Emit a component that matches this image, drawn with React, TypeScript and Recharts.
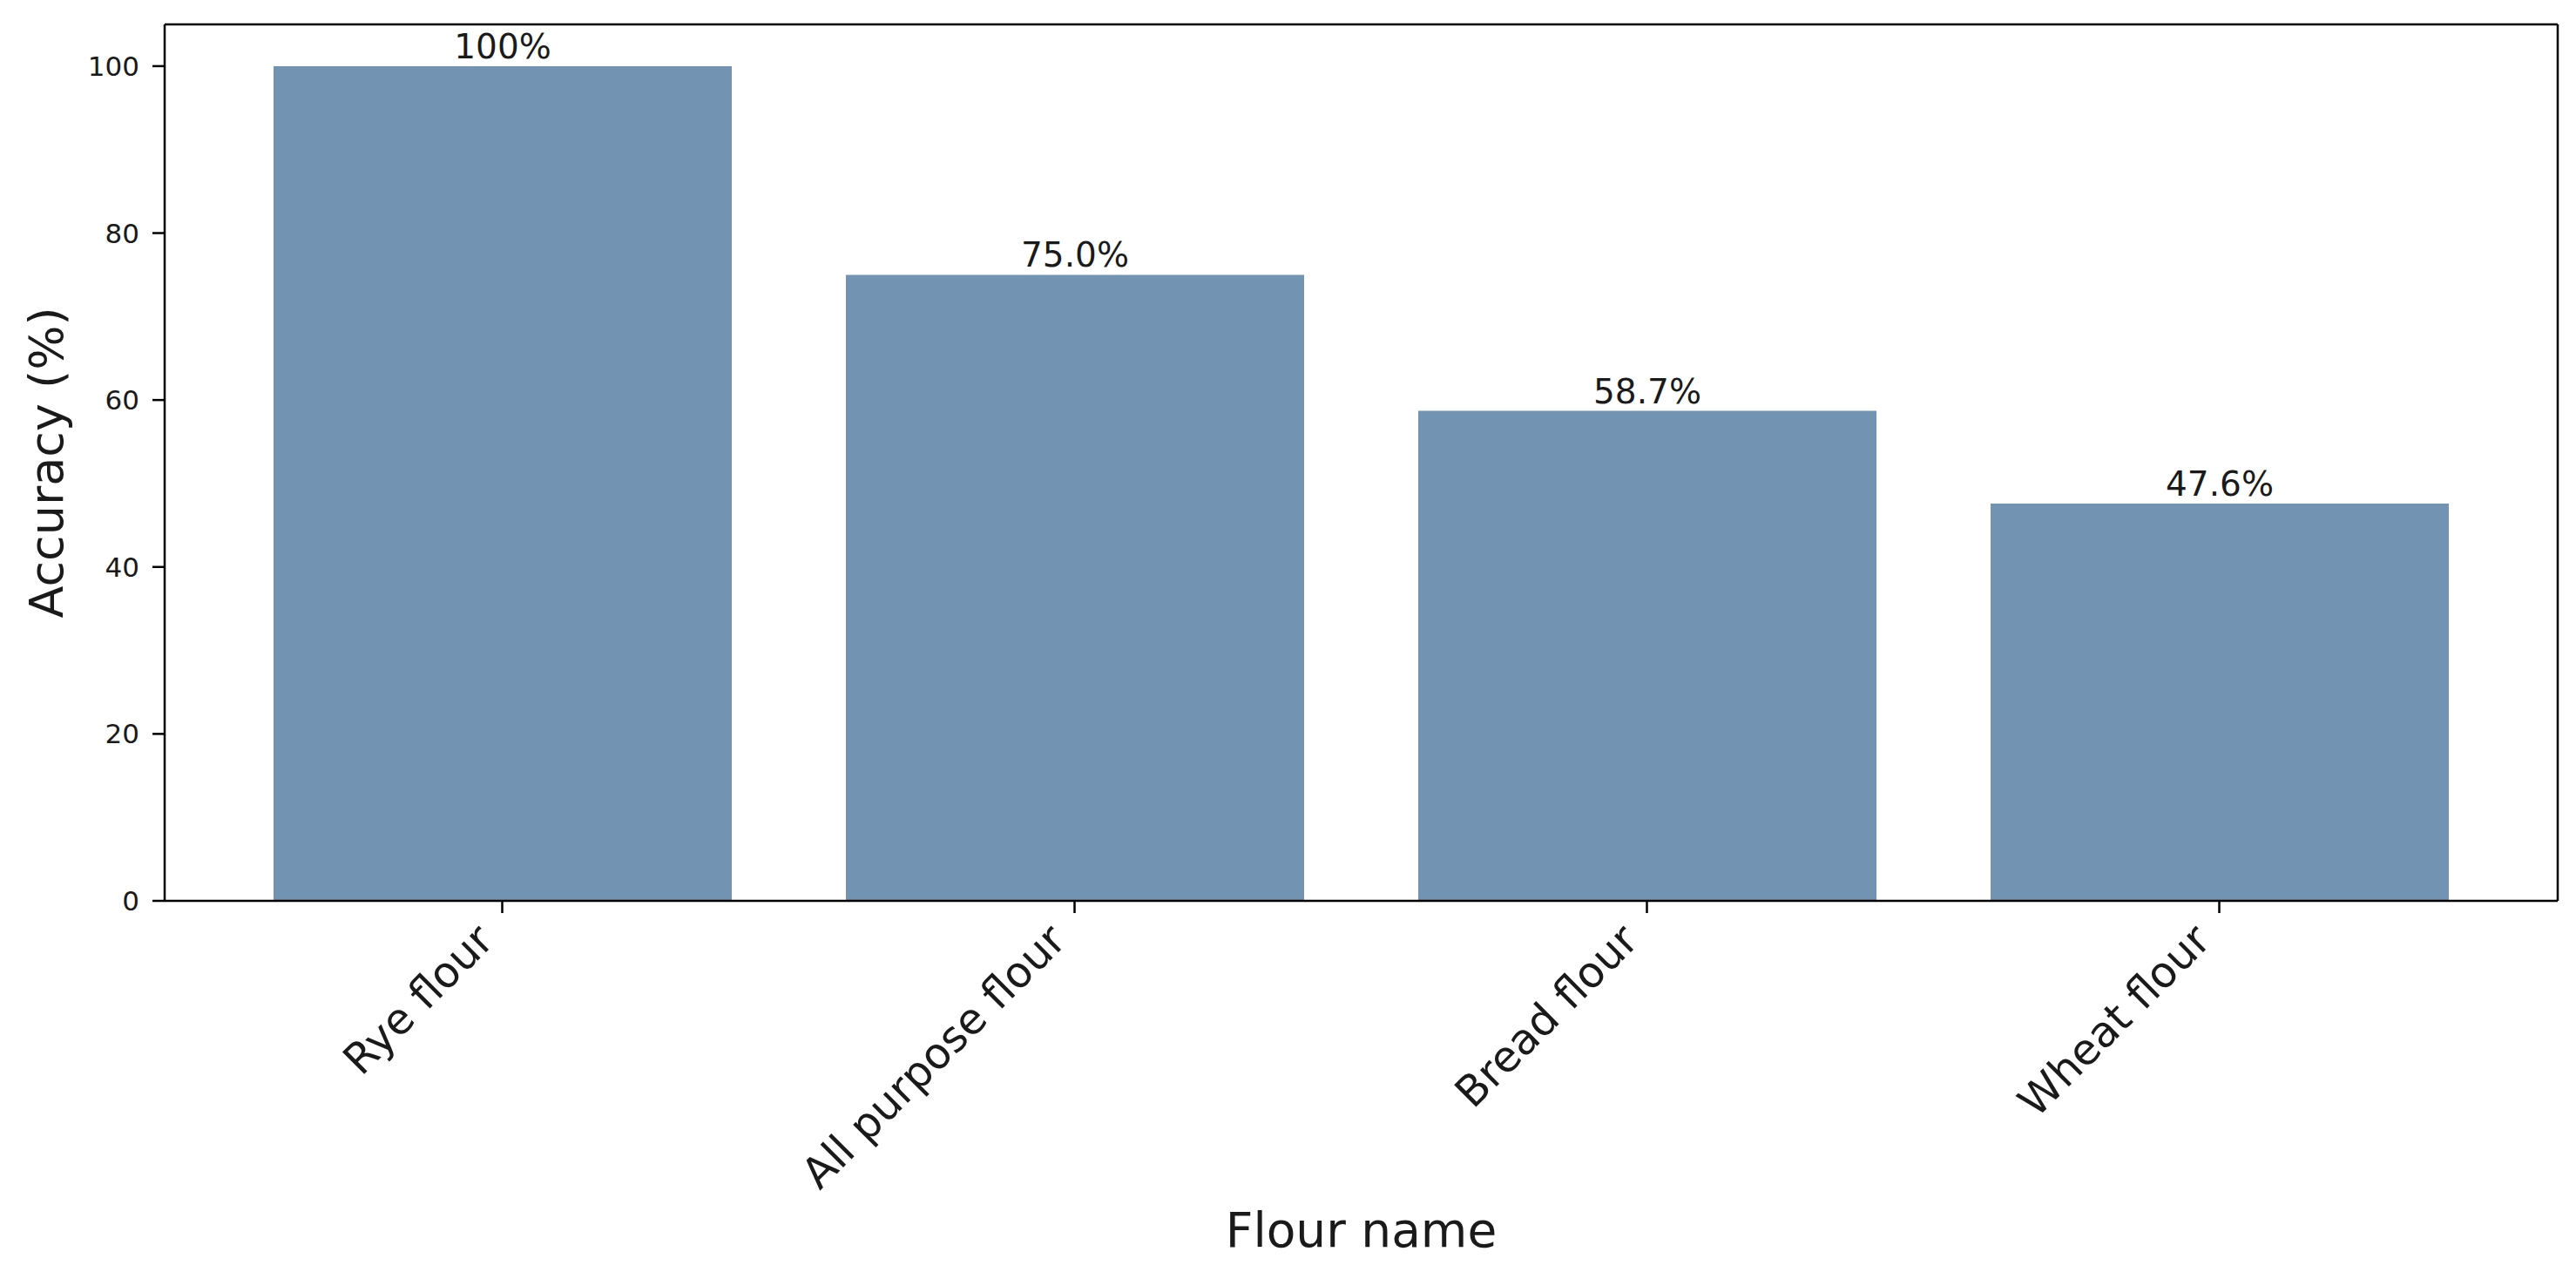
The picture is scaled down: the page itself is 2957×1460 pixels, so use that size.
import { BarChart, Bar, XAxis, YAxis, LabelList } from 'recharts';

const flours = ['Rye flour', 'All purpose flour', 'Bread flour', 'Wheat flour'];
const accuracy = [100, 75.0, 58.7, 47.6];
const accuracyText = ['100%', '75.0%', '58.7%', '47.6%'];
const yTicks = [0, 20, 40, 60, 80, 100];

const data = flours.map((name, i) => ({ name, accuracy: accuracy[i], text: accuracyText[i] }));

const FONT = 'DejaVu Sans, Verdana, sans-serif';
const INK = '#1a1a1a';

// matplotlib-style rotated label (rotation=45, ha='right')
const FlourTick = ({ x, y, payload }: any) => {
  const fs = 49;
  const x0 = x - 7.5;
  const y0 = y + 26;
  return (
    <text
      x={x0}
      y={y0}
      transform={`rotate(-45, ${x0}, ${y0})`}
      textAnchor="end"
      fontSize={fs}
      fontFamily={FONT}
      fill={INK}
    >
      {payload.value}
    </text>
  );
};

export default function App() {
  return (
    <div style={{ position: 'absolute', left: 0, top: 0, background: '#fff' }}>
      <BarChart
        width={2957}
        height={1460}
        data={data}
        margin={{ top: 27, right: 20, left: 0, bottom: 0 }}
      >
        <XAxis
          dataKey="name"
          height={426}
          padding={{ left: 59, right: 60 }}
          axisLine={{ stroke: '#000', strokeWidth: 2.5 }}
          tickLine={{ stroke: '#000', strokeWidth: 2.5 }}
          tickSize={14}
          tickMargin={8}
          tick={<FlourTick />}
          interval={0}
          label={{
            content: ({ viewBox }: any) => (
              <text
                x={viewBox.x + viewBox.width / 2}
                y={1431}
                textAnchor="middle"
                fontSize={55}
                fontFamily={FONT}
                fill={INK}
              >
                Flour name
              </text>
            ),
          }}
        />
        <XAxis
          xAxisId="top"
          dataKey="name"
          orientation="top"
          height={1}
          tick={false}
          tickLine={false}
          axisLine={{ stroke: '#000', strokeWidth: 2.5 }}
        />
        <YAxis
          domain={[0, 105]}
          ticks={yTicks}
          width={189}
          axisLine={{ stroke: '#000', strokeWidth: 2.5 }}
          tickLine={{ stroke: '#000', strokeWidth: 2.5 }}
          tickSize={14}
          tickMargin={15}
          tick={{ fill: INK, fontSize: 31, fontFamily: FONT }}
          label={{
            content: ({ viewBox }: any) => {
              const cy = viewBox.y + viewBox.height / 2;
              return (
                <text
                  x={72}
                  y={cy}
                  transform={`rotate(-90, 72, ${cy})`}
                  textAnchor="middle"
                  fontSize={54}
                  fontFamily={FONT}
                  fill={INK}
                >
                  Accuracy (%)
                </text>
              );
            },
          }}
        />
        <YAxis
          yAxisId="right"
          orientation="right"
          domain={[0, 105]}
          width={1}
          tick={false}
          tickLine={false}
          axisLine={{ stroke: '#000', strokeWidth: 2.5 }}
        />
        <Bar dataKey="accuracy" fill="#7293B1" barSize={526} isAnimationActive={false}>
          <LabelList
            dataKey="text"
            position="top"
            offset={9}
            fill={INK}
            fontSize={39}
            fontFamily={FONT}
          />
        </Bar>
      </BarChart>
    </div>
  );
}
